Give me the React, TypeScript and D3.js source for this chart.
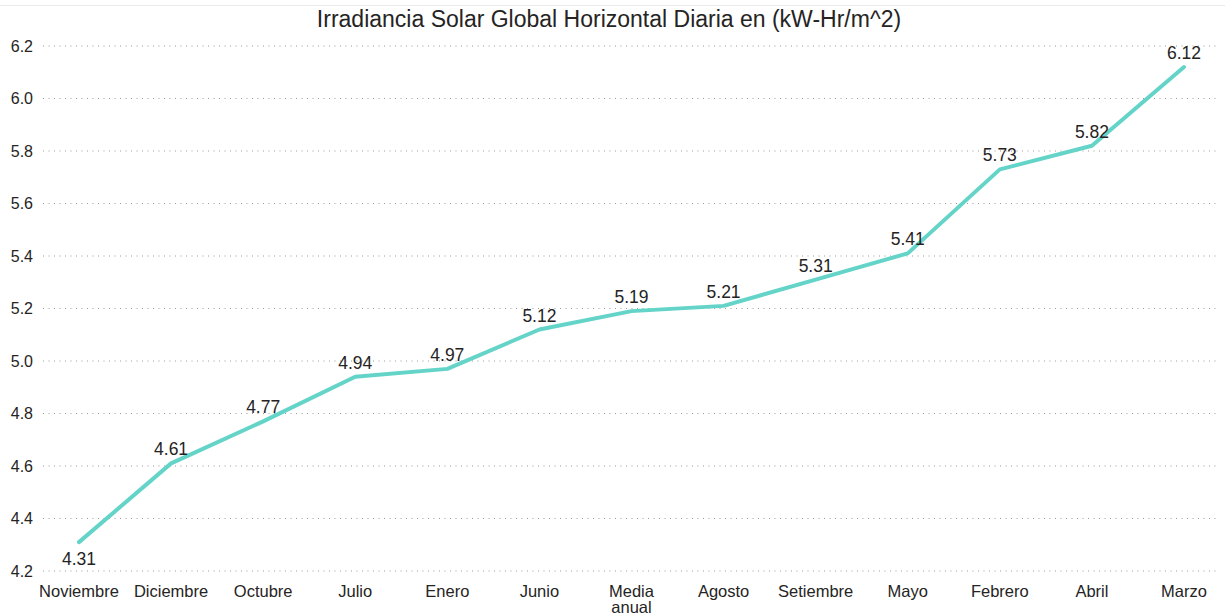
import React, { useEffect } from "react";
import * as d3 from "d3";

const categories = ["Noviembre", "Diciembre", "Octubre", "Julio", "Enero", "Junio", "Media anual", "Agosto", "Setiembre", "Mayo", "Febrero", "Abril", "Marzo"];
const values = [4.31, 4.61, 4.77, 4.94, 4.97, 5.12, 5.19, 5.21, 5.31, 5.41, 5.73, 5.82, 6.12];
const yTicks = [4.2, 4.4, 4.6, 4.8, 5.0, 5.2, 5.4, 5.6, 5.8, 6.0, 6.2];
const title = "Irradiancia Solar Global Horizontal Diaria en (kW-Hr/m^2)";

const W = 1225;
const H = 616;
const FONT = "'Liberation Sans', Arial, sans-serif";
const TEXT = "#252423";

export default function App() {
  useEffect(() => {
    document.body.style.margin = "0";
  }, []);

  const x = d3.scalePoint<string>().domain(categories).range([79, 1184]);
  const y = d3.scaleLinear().domain([4.2, 6.2]).range([571, 46]);
  const line = d3
    .line<number>()
    .x((_, i) => x(categories[i]) as number)
    .y((d) => y(d));

  return (
    <svg width={W} height={H} style={{ display: "block" }} fontFamily={FONT}>
      <rect width={W} height={H} fill="#fff" />
      <line x1={0} x2={W} y1={5.5} y2={5.5} stroke="#ebebeb" strokeWidth={1} />
      <text x={609} y={27} textAnchor="middle" fontSize={23} fill={TEXT}>
        {title}
      </text>
      {yTicks.map((t) => (
        <g key={t}>
          <line x1={43} x2={1218} y1={y(t)} y2={y(t)} stroke="#9a9a9a" strokeWidth={1} strokeDasharray="1 4.5" />
          <text x={33} y={y(t)} dy="0.35em" textAnchor="end" fontSize={16} fill={TEXT}>
            {t.toFixed(1)}
          </text>
        </g>
      ))}
      {categories.map((c) => {
        const parts = c === "Media anual" ? ["Media", "anual"] : [c];
        return (
          <text key={c} x={x(c)} y={597} textAnchor="middle" fontSize={16.5} fill={TEXT}>
            {parts.map((p, i) => (
              <tspan key={p} x={x(c)} dy={i === 0 ? 0 : 16}>
                {p}
              </tspan>
            ))}
          </text>
        );
      })}
      <path d={line(values) || ""} fill="none" stroke="#64d4c8" strokeWidth={4} strokeLinejoin="round" strokeLinecap="round" />
      {values.map((v, i) => (
        <text
          key={i}
          x={x(categories[i])}
          y={i === 0 ? y(v) + 23 : y(v) - 8}
          textAnchor="middle"
          fontSize={17.5}
          fill={TEXT}
        >
          {v.toFixed(2)}
        </text>
      ))}
    </svg>
  );
}
